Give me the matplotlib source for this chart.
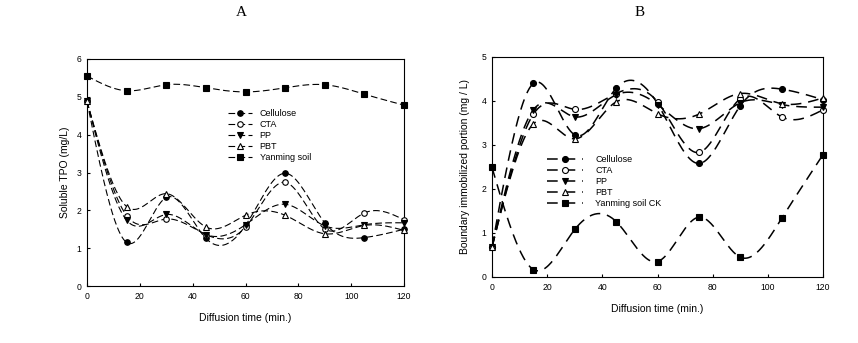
import numpy as np
import matplotlib.pyplot as plt

plt.rcParams['font.family'] = ['Liberation Sans', 'DejaVu Sans']

# diffusion time (min.)
time = [0, 15, 30, 45, 60, 75, 90, 105, 120]

# panel A - soluble TPO (mg/L)
a_cellulose = [4.88, 1.15, 2.34, 1.26, 1.60, 2.98, 1.67, 1.28, 1.50]
a_cta = [4.88, 1.86, 1.77, 1.36, 1.56, 2.74, 1.51, 1.93, 1.75]
a_pp = [4.88, 1.74, 1.89, 1.36, 1.62, 2.16, 1.59, 1.62, 1.67]
a_pbt = [4.88, 2.10, 2.44, 1.56, 1.87, 1.87, 1.38, 1.60, 1.47]
a_soil = [5.55, 5.16, 5.32, 5.24, 5.13, 5.24, 5.32, 5.07, 4.78]

# panel B - boundary immobilized portion (mg / L)
b_cellulose = [0.68, 4.40, 3.23, 4.29, 3.94, 2.58, 3.89, 4.27, 4.03]
b_cta = [0.68, 3.70, 3.81, 4.17, 3.98, 2.83, 4.05, 3.64, 3.80]
b_pp = [0.68, 3.80, 3.64, 4.14, 3.92, 3.37, 3.96, 3.92, 3.86]
b_pbt = [0.68, 3.48, 3.14, 3.98, 3.71, 3.70, 4.17, 3.94, 4.07]
b_soil = [2.49, 0.17, 1.08, 1.26, 0.35, 1.36, 0.45, 1.33, 2.78]

labels_a = ['Cellulose', 'CTA', 'PP', 'PBT', 'Yanming soil']
labels_b = ['Cellulose', 'CTA', 'PP', 'PBT', 'Yanming soil CK']
markers = [('o', 'black'), ('o', 'white'), ('v', 'black'), ('^', 'white'), ('s', 'black')]


def spline(x, y, n=400):
    """natural cubic spline through the points (like the sigmaplot curves)"""
    x = np.asarray(x, float)
    y = np.asarray(y, float)
    k = len(x)
    h = np.diff(x)
    A = np.zeros((k, k))
    r = np.zeros(k)
    A[0, 0] = A[-1, -1] = 1
    for i in range(1, k - 1):
        A[i, i - 1] = h[i - 1]
        A[i, i] = 2 * (h[i - 1] + h[i])
        A[i, i + 1] = h[i]
        r[i] = 6 * ((y[i + 1] - y[i]) / h[i] - (y[i] - y[i - 1]) / h[i - 1])
    m = np.linalg.solve(A, r)
    xs = np.linspace(x[0], x[-1], n)
    idx = np.clip(np.searchsorted(x, xs) - 1, 0, k - 2)
    x0, x1 = x[idx], x[idx + 1]
    hh = x1 - x0
    t0, t1 = x1 - xs, xs - x0
    ys = (m[idx] * t0 ** 3 + m[idx + 1] * t1 ** 3) / (6 * hh) \
        + (y[idx] / hh - m[idx] * hh / 6) * t0 + (y[idx + 1] / hh - m[idx + 1] * hh / 6) * t1
    return xs, ys


def panel(ax, series, labels, lw, dashes, ms):
    for vals, lab, (mk, fc) in zip(series, labels, markers):
        xs, ys = spline(time, vals)
        ax.plot(xs, ys, color='black', lw=lw, dashes=dashes, zorder=2)
        ax.plot(time, vals, ls='none', marker=mk, mfc=fc, mec='black',
                mew=0.8, ms=ms, zorder=3, clip_on=False)
        # legend proxy
        ax.plot([], [], color='black', lw=lw, dashes=dashes, marker=mk,
                mfc=fc, mec='black', mew=0.8, ms=ms, label=lab)
    ax.set_xlim(0, 120)
    ax.set_xticks(range(0, 121, 20))
    ax.tick_params(direction='in', length=2.5, width=0.8, labelsize=6.2, pad=4)
    for s in ax.spines.values():
        s.set_linewidth(0.8)
    ax.set_xlabel('Diffusion time (min.)', fontsize=7.5, labelpad=9)


fig = plt.figure(figsize=(8.58, 3.43), dpi=100)

ax1 = fig.add_axes([87 / 858, 1 - 286 / 343, 317 / 858, 227 / 343])
panel(ax1, [a_cellulose, a_cta, a_pp, a_pbt, a_soil], labels_a, 0.8, (6, 3), 4)
ax1.set_ylim(0, 6)
ax1.set_ylabel('Soluble TPO (mg/L)', fontsize=7.5, labelpad=5)
ax1.legend(loc='upper left', bbox_to_anchor=(0.445, 0.78), frameon=False,
           fontsize=6.5, handlelength=2.6, handletextpad=0.9, labelspacing=0.22,
           borderpad=0, borderaxespad=0, numpoints=1)

ax2 = fig.add_axes([492 / 858, 1 - 277 / 343, 331 / 858, 220 / 343])
panel(ax2, [b_cellulose, b_cta, b_pp, b_pbt, b_soil], labels_b, 1.1, (7, 4.5), 4.3)
ax2.set_ylim(0, 5)
ax2.set_ylabel('Boundary immobilized portion (mg / L)', fontsize=7.5, labelpad=8)
ax2.legend(loc='upper left', bbox_to_anchor=(0.165, 0.555), frameon=False,
           fontsize=6.5, handlelength=4.0, handletextpad=1.4, labelspacing=0.22,
           borderpad=0, borderaxespad=0, numpoints=1)

fig.text(241 / 858, 1 - 13 / 343, 'A', family='Liberation Serif', fontsize=11,
         ha='center', va='center')
fig.text(640 / 858, 1 - 13 / 343, 'B', family='Liberation Serif', fontsize=11,
         ha='center', va='center')

fig.savefig('out.png', dpi=100)
